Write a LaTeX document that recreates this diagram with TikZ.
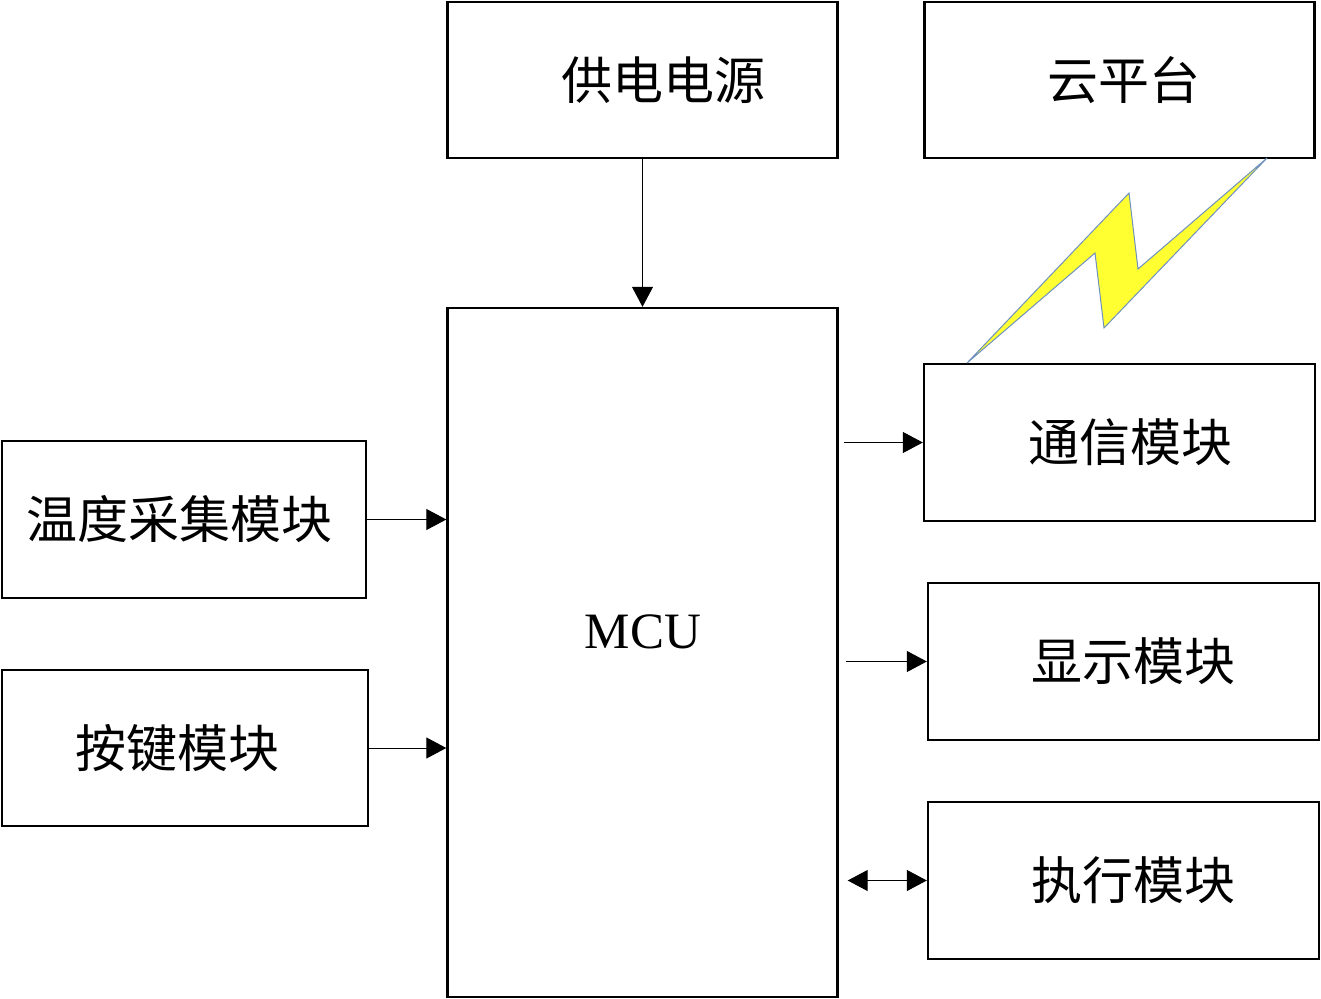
\documentclass[tikz,border=0pt]{standalone}
\usepackage{fontspec}
\setmainfont{Liberation Serif}
\newfontfamily\cjk{Noto Sans CJK SC}
\usetikzlibrary{arrows.meta,positioning}
\definecolor{boltfill}{RGB}{255,255,50}
\definecolor{boltline}{RGB}{110,145,190}

\begin{document}
\begin{tikzpicture}[x=0.5pt,y=-0.5pt,
    block/.style={draw,line width=1.2pt,inner sep=0pt,font=\fontsize{25.5}{30}\selectfont\cjk},
    link/.style={line width=0.5pt,-{Triangle[length=10pt,width=10.5pt]}},
    duplex/.style={line width=0.5pt,{Triangle[length=10pt,width=10.5pt]}-{Triangle[length=10pt,width=10.5pt]}}]
  \useasboundingbox (0,0) rectangle (1321,999);
  % blocks
  \node[block,minimum width=195pt,minimum height=78pt] (power) at (642.5,80) {\hspace{21pt}供电电源};
  \node[block,minimum width=195pt,minimum height=78pt] (cloud) at (1119.5,80) {\hspace{4pt}云平台};
  \node[block,minimum width=195pt,minimum height=344.5pt] (mcu) at (642.5,652.5) {};
  \node[font=\fontsize{25.5}{30}\selectfont] (mcutext) at (643,632) {MCU};
  \node[block,minimum width=182pt,minimum height=78.5pt] (temp) at (184,519.5) {温度采集模块\kern5pt};
  \node[block,minimum width=183pt,minimum height=78pt] (keys) at (185,748) {按键模块\kern8pt};
  \node[block,minimum width=195.5pt,minimum height=78.5pt] (comm) at (1119.5,442.5) {\hspace{11pt}通信模块};
  \node[block,minimum width=195.5pt,minimum height=78.5pt] (disp) at (1123.5,661.5) {\hspace{10pt}显示模块};
  \node[block,minimum width=195.5pt,minimum height=78.5pt] (exec) at (1123.5,880.5) {\hspace{10pt}执行模块};
  % connectors
  \draw[link] (power.south) -- (mcu.north);
  \draw[link] (temp.east) -- (temp.east -| mcu.west);
  \draw[link] (keys.east) -- (keys.east -| mcu.west);
  \draw[link,shorten <=2.5pt] (mcu.east |- comm.west) -- (comm.west);
  \draw[link,shorten <=3.5pt] (mcu.east |- disp.west) -- (disp.west);
  \draw[duplex,shorten <=4.5pt] (mcu.east |- exec.west) -- (exec.west);
  % wireless link
  \draw[fill=boltfill,draw=boltline,line width=0.5pt,line join=miter]
    (967,363) -- (1129,193) -- (1138,269) -- (1267,158) -- (1104,328) -- (1095,253) -- cycle;
\end{tikzpicture}
\end{document}
